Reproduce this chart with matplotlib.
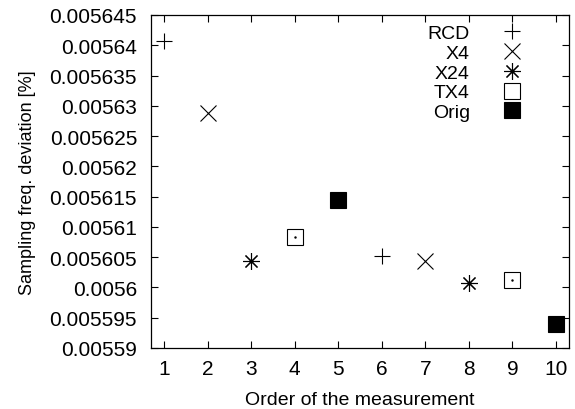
import numpy as np
import matplotlib.pyplot as plt
from matplotlib.ticker import MultipleLocator, FuncFormatter

plt.rcParams['font.family'] = ['Liberation Sans', 'DejaVu Sans']

series = ['RCD', 'X4', 'X24', 'TX4', 'Orig']
order = [[1, 6], [2, 7], [3, 8], [4, 9], [5, 10]]
deviation = [
    [0.0056407, 0.0056052],
    [0.0056288, 0.0056043],
    [0.0056044, 0.0056008],
    [0.0056083, 0.0056012],
    [0.0056144, 0.0055940],
]

styles = [
    dict(marker='+', markersize=12, markeredgewidth=0.8, color='black'),
    dict(marker='x', markersize=11, markeredgewidth=0.8, color='black'),
    dict(marker=(8, 2, 0), markersize=12, markeredgewidth=0.8, color='black'),
    dict(marker='s', markersize=11, markeredgewidth=0.8, markerfacecolor='white',
         markeredgecolor='black'),
    dict(marker='s', markersize=11, markeredgewidth=0.8, color='black'),
]

fig = plt.figure(figsize=(5.75, 4.1), dpi=100)
ax = fig.add_axes([0.2626, 0.149, 0.727, 0.812])

for name, xs, ys, st in zip(series, order, deviation, styles):
    ax.plot(xs, ys, linestyle='none', label=name, **st)
    if name == 'TX4':
        ax.plot(xs, ys, linestyle='none', marker='.', markersize=1.5, color='black')

ax.set_xlim(0.7, 10.3)
ax.set_ylim(0.00559, 0.005645)
ax.set_xticks(range(1, 11))
ax.yaxis.set_major_locator(MultipleLocator(0.000005))
ax.yaxis.set_major_formatter(FuncFormatter(lambda v, _: '%g' % v))
ax.tick_params(direction='in', length=5, width=0.8, labelsize=15,
               top=True, right=True)
ax.tick_params(axis='y', pad=10)
ax.tick_params(axis='x', pad=8)
for s in ax.spines.values():
    s.set_linewidth(0.9)

ax.set_xlabel('Order of the measurement', fontsize=14, labelpad=9)
ax.set_ylabel('Sampling freq. deviation [%]', fontsize=13, labelpad=10)

leg = ax.legend(loc='upper right', bbox_to_anchor=(0.944, 1.018), frameon=False,
                markerfirst=False, fontsize=14, labelspacing=0.11,
                handlelength=1.9, handletextpad=1.2, borderpad=0.3)

fig.savefig('out.png', dpi=100)
